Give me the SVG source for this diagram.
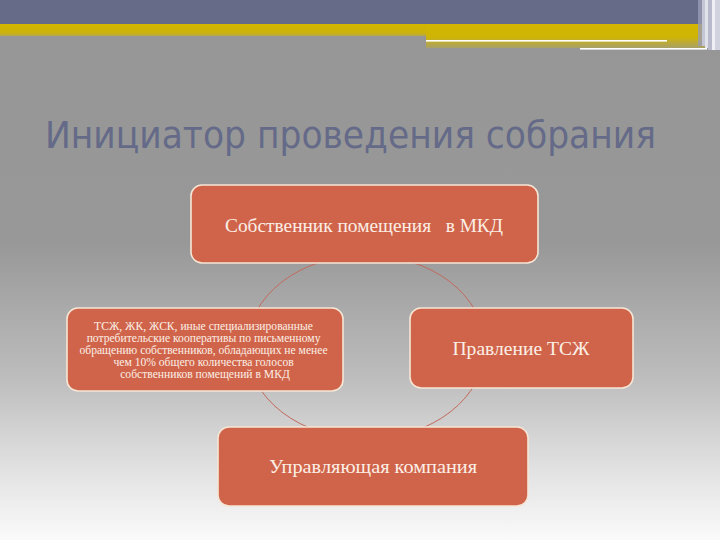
<svg xmlns="http://www.w3.org/2000/svg" width="720" height="540" viewBox="0 0 720 540">
<defs>
<linearGradient id="bg" x1="0" y1="0" x2="0" y2="1">
<stop offset="0" stop-color="#969696"/>
<stop offset="0.45" stop-color="#989898"/>
<stop offset="0.7" stop-color="#bdbdbd"/>
<stop offset="0.88" stop-color="#e4e4e4"/>
<stop offset="1" stop-color="#fafafa"/>
</linearGradient>
<linearGradient id="yel" x1="0" y1="0" x2="0" y2="1">
<stop offset="0" stop-color="#d2b600"/>
<stop offset="0.7" stop-color="#cdb30a"/>
<stop offset="1" stop-color="#b4a64a"/>
</linearGradient>
<linearGradient id="yel2" x1="0" y1="0" x2="0" y2="1">
<stop offset="0" stop-color="#d2b600"/>
<stop offset="0.55" stop-color="#cfb406"/>
<stop offset="1" stop-color="#a8a06a"/>
</linearGradient>
<style>
.node rect{fill:#d0644a;stroke:#f6e6d6;stroke-width:1.6}
.node text{fill:#fbefe6;font-family:"Liberation Serif","DejaVu Serif",serif;text-anchor:middle}
.conn{fill:none;stroke:#c2695c;stroke-width:1}
.pre{white-space:pre}
</style>
</defs>
<rect x="0" y="0" width="720" height="540" fill="url(#bg)"/>
<!-- top decoration -->
<rect x="0" y="0" width="720" height="24" fill="#666b87"/>
<rect x="0" y="24" width="720" height="12" fill="url(#yel)"/>
<rect x="426" y="24" width="280" height="24" fill="url(#yel2)"/>
<rect x="426" y="40" width="241" height="1.6" fill="#ffffff"/>
<rect x="580" y="48" width="127" height="1.6" fill="#ffffff"/>
<rect x="698" y="0" width="4" height="46" fill="#9a9cb4" opacity="0.8"/>
<rect x="702" y="0" width="3" height="46" fill="#c4c6d6"/>
<rect x="705" y="0" width="3" height="48" fill="#e2e3ea"/>
<rect x="708" y="0" width="4" height="50" fill="#b8bacc"/>
<rect x="712" y="0" width="3" height="50" fill="#eeeef4"/>
<rect x="715" y="0" width="5" height="50" fill="#d0d2de"/>
<text x="45" y="148" font-family="'DejaVu Sans','Open Sans',sans-serif" font-size="37" fill="#646a88" textLength="611" lengthAdjust="spacingAndGlyphs">Инициатор проведения собрания</text>
<g id="connectors">
<ellipse class="conn" cx="366" cy="347" rx="119" ry="92"/>
</g>
<g id="node-owner" class="node">
<rect x="191" y="185" width="347" height="78" rx="11"/>
<text class="pre" x="364" y="232" font-size="19" textLength="278" lengthAdjust="spacingAndGlyphs">Собственник помещения   в МКД</text>
</g>
<g id="node-tszh" class="node">
<rect x="67" y="308" width="276" height="83" rx="11"/>
<text font-size="11.6">
<tspan x="205" y="330">ТСЖ, ЖК, ЖСК, иные специализированные</tspan>
<tspan x="205" y="342">потребительские кооперативы по письменному</tspan>
<tspan x="205" y="354">обращению собственников, обладающих не менее</tspan>
<tspan x="205" y="366">чем 10% общего количества голосов</tspan>
<tspan x="205" y="378">собственников помещений в МКД</tspan>
</text>
</g>
<g id="node-board" class="node">
<rect x="410" y="308" width="223" height="80" rx="11"/>
<text x="521" y="355" font-size="18" textLength="137" lengthAdjust="spacingAndGlyphs">Правление ТСЖ</text>
</g>
<g id="node-mc" class="node">
<rect x="218" y="427" width="310" height="79" rx="11"/>
<text x="373" y="473" font-size="19" textLength="208" lengthAdjust="spacingAndGlyphs">Управляющая компания</text>
</g>
</svg>
